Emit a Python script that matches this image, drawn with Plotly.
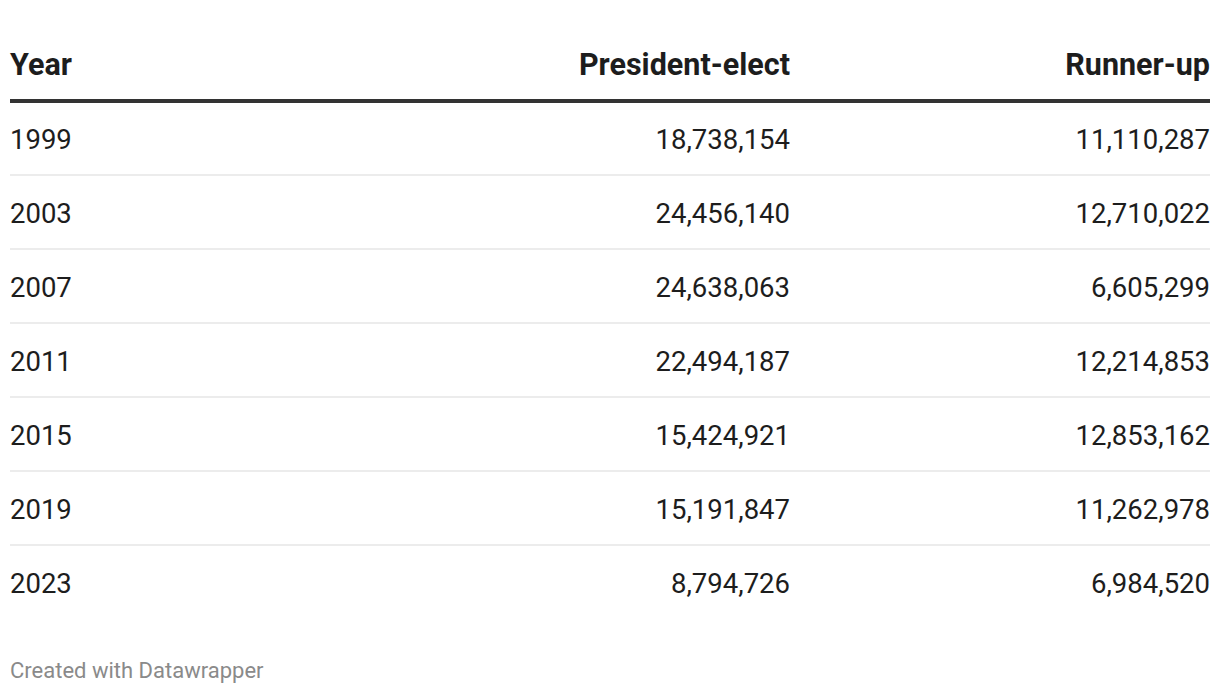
import plotly.graph_objects as go

# ---- data ----
columns = ["Year", "President-elect", "Runner-up"]
years = ["1999", "2003", "2007", "2011", "2015", "2019", "2023"]
president_elect = [18738154, 24456140, 24638063, 22494187, 15424921, 15191847, 8794726]
runner_up = [11110287, 12710022, 6605299, 12214853, 12853162, 11262978, 6984520]
footer_text = "Created with Datawrapper"

# ---- layout constants ----
W, H = 1220, 694
ROW_PX = 74.0
ROW0_PX = 142.5      # pixel anchor of first data row text
FONT = "Roboto"
FS = 27.5
HFS = 30.5
TXT = "#1d1d1d"
LINE_SHIFT = -4.5 / ROW_PX   # rules sit slightly above text mid-points

rows = list(range(len(years)))
header_y = -1.0 - 1.0 / ROW_PX

fig = go.Figure()

# column x anchors (pixels) and alignment
col_x = [10, 790, 1210]
col_pos = ["middle right", "middle left", "middle left"]
col_vals = [years,
            [f"{v:,}" for v in president_elect],
            [f"{v:,}" for v in runner_up]]

for cx, pos, vals in zip(col_x, col_pos, col_vals):
    fig.add_trace(go.Scatter(
        x=[cx] * len(vals), y=rows, text=vals, mode="text",
        textposition=pos, cliponaxis=False, hoverinfo="skip",
        textfont=dict(family=FONT, size=FS, color=TXT),
        showlegend=False))

# header
for cx, pos, name in zip(col_x, col_pos, columns):
    fig.add_trace(go.Scatter(
        x=[cx], y=[header_y], text=[name], mode="text",
        textposition=pos, cliponaxis=False, hoverinfo="skip",
        textfont=dict(family=FONT, size=HFS, color=TXT, weight="bold"),
        showlegend=False))

# header rule
fig.add_shape(type="line", xref="x", yref="y", x0=10, x1=1210,
              y0=-0.5 + LINE_SHIFT, y1=-0.5 + LINE_SHIFT,
              line=dict(color="#333333", width=4))
# row separators
for i in rows[:-1]:
    fig.add_shape(type="line", xref="x", yref="y", x0=10, x1=1210,
                  y0=i + 0.5 + LINE_SHIFT, y1=i + 0.5 + LINE_SHIFT,
                  line=dict(color="#e6e6e6", width=1.5))

fig.add_annotation(text=footer_text, xref="paper", yref="paper",
                   x=8 / W, y=1 - 670 / H, xanchor="left", yanchor="middle",
                   showarrow=False,
                   font=dict(family=FONT, size=22, color="#8a8a8a"))

fig.update_xaxes(range=[0, W], visible=False, fixedrange=True)
fig.update_yaxes(range=[(H - ROW0_PX) / ROW_PX, -ROW0_PX / ROW_PX],
                 visible=False, fixedrange=True)
fig.update_layout(width=W, height=H, margin=dict(l=0, r=0, t=0, b=0),
                  paper_bgcolor="white", plot_bgcolor="white")

fig.write_html("out.html", config={"displayModeBar": False},
               post_script="document.body.style.margin='0';document.body.style.overflow='hidden';")
